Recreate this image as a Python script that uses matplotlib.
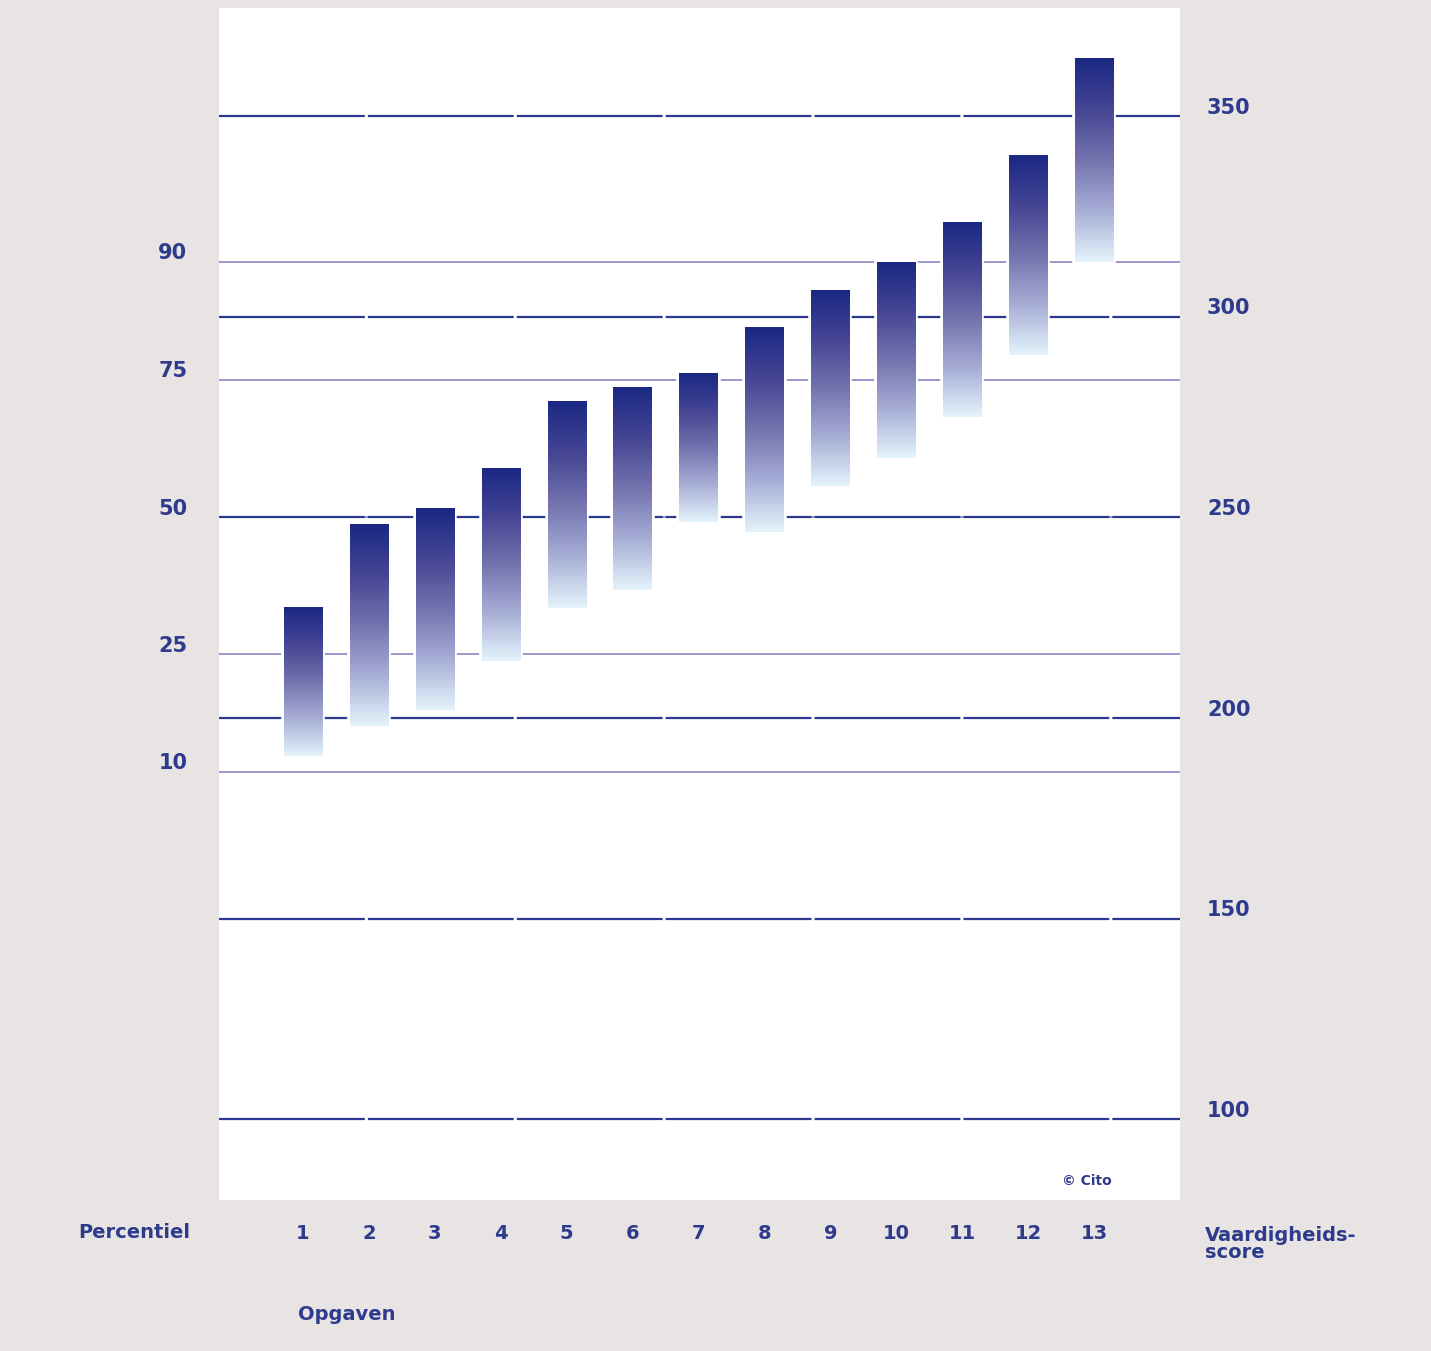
import numpy as np
import matplotlib
matplotlib.use("Agg")
import matplotlib.pyplot as plt
from matplotlib.colors import LinearSegmentedColormap
from matplotlib.patches import Rectangle

plt.rcParams['lines.scale_dashes'] = False

# ---- data ----
opgaven = ["1", "2", "3", "4", "5", "6", "7", "8", "9", "10", "11", "12", "13"]
bar_top = [227.6, 248.3, 252.2, 262.2, 278.9, 282.3, 285.8, 297.3, 306.5, 313.4, 323.6, 340.3, 364.4]
bar_bottom = [190.5, 198.0, 202.0, 214.2, 227.4, 231.8, 248.8, 246.3, 257.7, 264.7, 275.1, 290.5, 313.7]
score_ticks = [100, 150, 200, 250, 300, 350]
percentile_labels = ["10", "25", "50", "75", "90"]
percentile_scores = [186.6, 215.9, 250.0, 284.3, 313.7]

navy = "#2b3990"
txt = "#2e3a8c"
perc_col = "#9490cc"
bg = "#e8e4e4"

W, H = 1431, 1351
fig = plt.figure(figsize=(W / 100, H / 100), dpi=100, facecolor=bg)
ax = fig.add_axes([219 / W, 1 - 1200 / H, (1180 - 219) / W, (1200 - 8) / H])
ax.set_facecolor("white")
ax.set_xlim(-0.275, 14.305)
ax.set_ylim(79.9, 376.9)
for s in ax.spines.values():
    s.set_visible(False)
ax.set_xticks([])
ax.set_yticks([])

# percentile lines
for v in percentile_scores:
    ax.axhline(v, color=perc_col, lw=1.3, zorder=1)

# score lines (with small gaps like the reference)
for v in score_ticks:
    ln = ax.axhline(v, color=navy, lw=1.6, zorder=1)
    ln.set_dashes([105, 2.2])

# gradient bars
cmap = LinearSegmentedColormap.from_list(
    "grad", ["#e4f3fb", "#a7aed6", "#7373ae", "#454594", "#1a2883"])
grad = np.linspace(0, 1, 256).reshape(-1, 1)
bw = 0.58
x = np.arange(1, len(opgaven) + 1)
for xi, t, b in zip(x, bar_top, bar_bottom):
    ax.add_patch(Rectangle((xi - bw / 2, b), bw, t - b, fc="none", ec="white",
                           lw=4, zorder=2))
    ax.imshow(grad, cmap=cmap, aspect="auto", origin="lower",
              extent=(xi - bw / 2, xi + bw / 2, b, t), zorder=3,
              interpolation="bilinear")
ax.set_xlim(-0.275, 14.305)
ax.set_ylim(79.9, 376.9)

fs = 15
ytr = ax.get_yaxis_transform()
xtr = ax.get_xaxis_transform()

# left percentile labels
for lab, v in zip(percentile_labels, percentile_scores):
    ax.text(-0.033, v + 0.6, lab, transform=ytr, ha="right", va="baseline",
            fontsize=fs, color=txt, fontweight="bold", clip_on=False)

# right score labels
for v in score_ticks:
    ax.text(1.028, v + 0.6, str(v), transform=ytr, ha="left", va="baseline",
            fontsize=fs, color=txt, fontweight="bold", clip_on=False)

# category labels
for xi, lab in zip(x, opgaven):
    ax.text(xi, -0.0277, lab, transform=xtr, ha="center", va="center",
            fontsize=fs - 1, color=txt, fontweight="bold", clip_on=False)

fig.text(78 / W, 1 - 1233 / H, "Percentiel", ha="left", va="center",
         fontsize=fs - 1, color=txt, fontweight="bold")
fig.text(1205 / W, 1 - 1244 / H, "Vaardigheids-\nscore", ha="left", va="center",
         fontsize=fs - 1, color=txt, fontweight="bold", linespacing=0.85)
fig.text(298 / W, 1 - 1315 / H, "Opgaven", ha="left", va="center",
         fontsize=fs - 1, color=txt, fontweight="bold")
fig.text(1112 / W, 1 - 1181 / H, "© Cito", ha="right", va="center",
         fontsize=10, color=txt, fontweight="bold")

fig.savefig("out.png", dpi=100, facecolor=bg)
